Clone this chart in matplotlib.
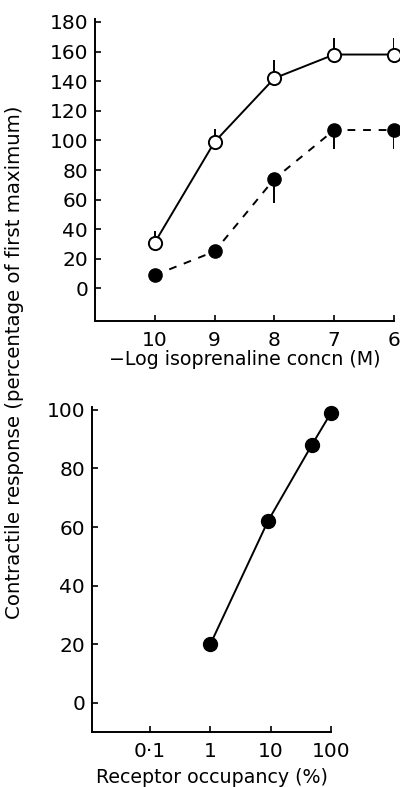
import numpy as np
import matplotlib
matplotlib.use("Agg")
import matplotlib.pyplot as plt

plt.rcParams['font.family'] = ['DejaVu Sans']

# top panel: -log isoprenaline concentration
conc_log = [10, 9, 8, 7, 6]
open_resp = [31, 99, 142, 158, 158]
open_err_up = [8, 9, 12, 11, 11]
filled_resp = [9, 25, 74, 107, 107]
filled_err_down = [0, 0, 16, 13, 13]

# bottom panel: receptor occupancy
occupancy = [1, 9, 48, 100]
occ_resp = [20, 62, 88, 99]

fig = plt.figure(figsize=(4.0, 7.87), dpi=100)

lw = 1.4
fs_tick = 14.5
fs_lab = 13.7

# ---- top panel
ax1 = fig.add_axes([95 / 400, 1 - 321 / 787, (394 - 95) / 400, (321 - 19) / 787])
ax1.plot(conc_log, open_resp, '-', color='black', lw=lw, zorder=2)
ax1.plot(conc_log, filled_resp, '--', color='black', lw=lw, dashes=(4, 4), zorder=2)
ax1.errorbar(conc_log, open_resp, yerr=[np.zeros(5), open_err_up], fmt='none',
             ecolor='black', elinewidth=lw, capsize=0, zorder=1)
ax1.errorbar(conc_log, filled_resp, yerr=[filled_err_down, np.zeros(5)], fmt='none',
             ecolor='black', elinewidth=lw, capsize=0, zorder=1)
ax1.plot(conc_log, open_resp, 'o', ms=9.5, mfc='white', mec='black', mew=1.4, zorder=3,
         clip_on=False)
ax1.plot(conc_log, filled_resp, 'o', ms=9.5, mfc='black', mec='black', zorder=3,
         clip_on=False)
ax1.set_xlim(11.0, 6.0)
ax1.set_ylim(-22, 182)
ax1.set_yticks(range(0, 181, 20))
ax1.set_xticks(conc_log)
ax1.set_xlabel('\u2212Log isoprenaline concn (M)', fontsize=fs_lab, labelpad=0)

# ---- bottom panel
ax2 = fig.add_axes([92 / 400, 1 - 732 / 787, (331 - 92) / 400, (732 - 407) / 787])
ax2.plot(occupancy, occ_resp, '-', color='black', lw=lw, zorder=2)
ax2.plot(occupancy, occ_resp, 'o', ms=10, color='black', zorder=3, clip_on=False)
ax2.set_xscale('log')
ax2.set_xlim(0.0109, 100)
ax2.set_ylim(-10, 101)
ax2.set_yticks(range(0, 101, 20))
ax2.set_xticks([0.1, 1, 10, 100])
ax2.set_xticklabels(['0\u00b71', '1', '10', '100'])
ax2.minorticks_off()
ax2.set_xlabel('Receptor occupancy (%)', fontsize=fs_lab, labelpad=5)

for ax in (ax1, ax2):
    for s in ('top', 'right'):
        ax.spines[s].set_visible(False)
    for s in ('left', 'bottom'):
        ax.spines[s].set_linewidth(lw)
    ax.tick_params(axis='both', direction='in', length=4, width=1.2,
                   labelsize=fs_tick, colors='black')
    ax.tick_params(axis='x', pad=7)
    ax.tick_params(axis='y', pad=5)

fig.text(15 / 400, 1 - 362 / 787, 'Contractile response (percentage of first maximum)',
         rotation=90, ha='center', va='center', fontsize=14.2)

fig.savefig('out.png', dpi=100)
